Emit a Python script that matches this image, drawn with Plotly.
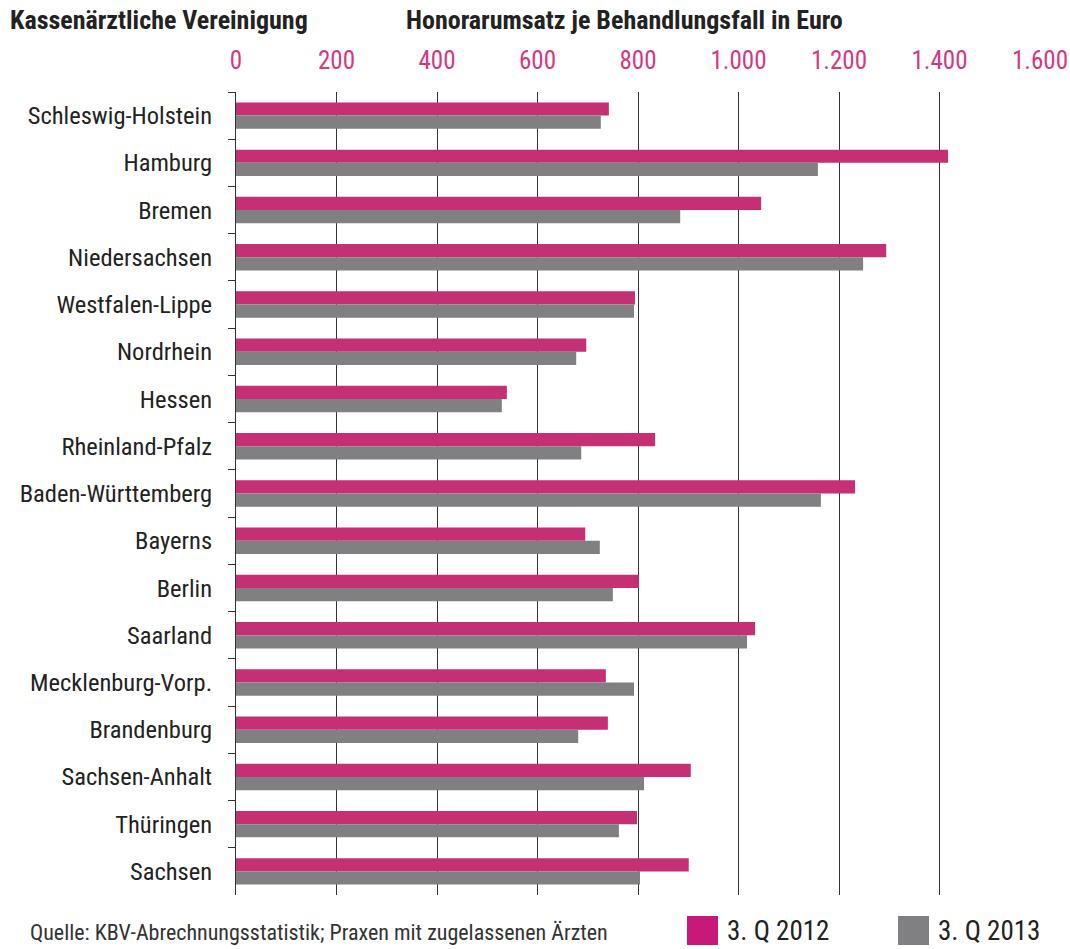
import plotly.graph_objects as go

categories = ["Schleswig-Holstein", "Hamburg", "Bremen", "Niedersachsen", "Westfalen-Lippe",
              "Nordrhein", "Hessen", "Rheinland-Pfalz", "Baden-Württemberg", "Bayerns",
              "Berlin", "Saarland", "Mecklenburg-Vorp.", "Brandenburg", "Sachsen-Anhalt",
              "Thüringen", "Sachsen"]
q3_2012 = [742, 1417, 1045, 1294, 794, 697, 539, 834, 1232, 695, 802, 1033, 736, 740, 905, 798, 901]
q3_2013 = [726, 1158, 884, 1248, 792, 677, 529, 687, 1164, 724, 750, 1017, 792, 681, 812, 762, 804]
tick_vals = [0, 200, 400, 600, 800, 1000, 1200, 1400, 1600]
tick_text = ["0", "200", "400", "600", "800", "1.000", "1.200", "1.400", "1.600"]

PINK = "#c52f73"
GRAY = "#808083"
FONT = "Roboto Condensed, Liberation Sans Narrow, sans-serif"

fig = go.Figure()
fig.add_trace(go.Bar(y=categories, x=q3_2012, orientation="h", name="3. Q 2012",
                     marker=dict(color=PINK, line=dict(width=0))))
fig.add_trace(go.Bar(y=categories, x=q3_2013, orientation="h", name="3. Q 2013",
                     marker=dict(color=GRAY, line=dict(width=0))))

fig.update_layout(
    width=1070, height=949,
    margin=dict(l=236, r=30, t=92, b=54),
    barmode="group", bargap=0.44, bargroupgap=0.0,
    plot_bgcolor="white", paper_bgcolor="white",
    showlegend=False,
    font=dict(family=FONT, color="#222", size=24),
    xaxis=dict(side="top", range=[0, 1600], tickvals=tick_vals, ticktext=tick_text,
               tickfont=dict(color="#d6367f", size=25, family=FONT),
               showgrid=True, gridcolor="#333", gridwidth=1, zeroline=False,
               ticks="", ticklabelstandoff=17, showline=False, fixedrange=True,
               automargin=False),
    yaxis=dict(categoryorder="array", categoryarray=categories, autorange="reversed",
               showline=True, linecolor="#333", linewidth=1,
               ticks="outside", ticklen=7, tickcolor="#333", tickson="boundaries",
               tickfont=dict(size=24.5, family=FONT, color="#222"),
               ticklabelstandoff=18, showgrid=False, automargin=False),
)

def px_x(p):
    return (p - 236) / 804

def px_y(p):
    return (895 - p) / 803

# headers
fig.add_annotation(text="<b>Kassenärztliche Vereinigung</b>", xref="paper", yref="paper",
                   x=px_x(8), y=px_y(20), xanchor="left", yanchor="middle", showarrow=False,
                   font=dict(size=26, family=FONT, color="#222"))
fig.add_annotation(text="<b>Honorarumsatz je Behandlungsfall in Euro</b>", xref="paper", yref="paper",
                   x=px_x(404), y=px_y(20), xanchor="left", yanchor="middle", showarrow=False,
                   font=dict(size=26, family=FONT, color="#222"))
# source
fig.add_annotation(text="Quelle: KBV-Abrechnungsstatistik; Praxen mit zugelassenen Ärzten",
                   xref="paper", yref="paper", x=px_x(28), y=px_y(932),
                   xanchor="left", yanchor="middle", showarrow=False,
                   font=dict(size=22, family=FONT, color="#333"))

# custom legend
for x0, color, label in [(687, "#c8197a", "3. Q 2012"), (898, GRAY, "3. Q 2013")]:
    fig.add_shape(type="rect", xref="paper", yref="paper",
                  x0=px_x(x0), x1=px_x(x0 + 31), y0=px_y(945), y1=px_y(916),
                  fillcolor=color, line=dict(width=0))
    fig.add_annotation(text=label, xref="paper", yref="paper", x=px_x(x0 + 38), y=px_y(931),
                       xanchor="left", yanchor="middle", showarrow=False,
                       font=dict(size=27, family=FONT, color="#222"))

fig.write_html("out.html", config={"displayModeBar": False},
               post_script="document.body.style.margin='0';")
